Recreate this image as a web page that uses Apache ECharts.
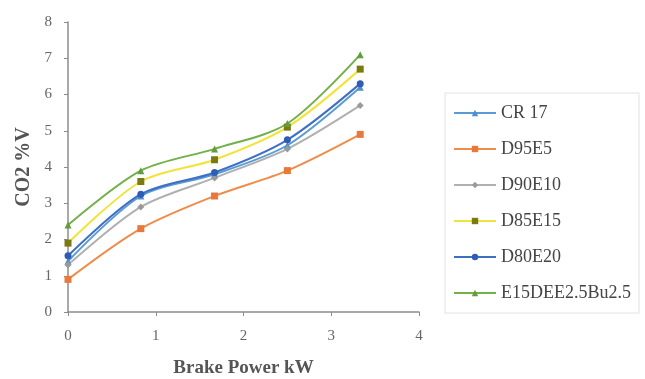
<!DOCTYPE html>
<html>
<head>
<meta charset="utf-8">
<script src="https://cdn.jsdelivr.net/npm/echarts@6/dist/echarts.min.js"></script>
<style>
  html, body {margin: 0; padding: 0; background: #fff;}
  #chart {width: 645px; height: 379px;}
</style>
</head>
<body>
<div id="chart"></div>
<script>
// brake power (kW) at each load step
const power = [0, 0.83, 1.67, 2.5, 3.33];
const seriesNames = ['CR 17', 'D95E5', 'D90E10', 'D85E15', 'D80E20', 'E15DEE2.5Bu2.5'];
const cr17 = [1.4, 3.2, 3.8, 4.6, 6.2];
const d95e5 = [0.9, 2.3, 3.2, 3.9, 4.9];
const d90e10 = [1.3, 2.9, 3.7, 4.5, 5.7];
const d85e15 = [1.9, 3.6, 4.2, 5.1, 6.7];
const d80e20 = [1.55, 3.25, 3.85, 4.75, 6.3];
const e15dee = [2.4, 3.9, 4.5, 5.2, 7.1];
const yTicks = [0, 1, 2, 3, 4, 5, 6, 7, 8];
const xTicks = [0, 1, 2, 3, 4];

const serif = '"Liberation Serif", "DejaVu Serif", serif';
const styles = [
  {line: '#5b9bd5', marker: '#4f8fcc', symbol: 'triangle'},
  {line: '#f08c4a', marker: '#e8793a', symbol: 'rect'},
  {line: '#b0b0b0', marker: '#9a9a9a', symbol: 'diamond'},
  {line: '#f2e33a', marker: '#7a7a10', symbol: 'rect'},
  {line: '#3f6fc4', marker: '#2f5db3', symbol: 'circle'},
  {line: '#72b04a', marker: '#5f9e3a', symbol: 'triangle'},
];
const values = [cr17, d95e5, d90e10, d85e15, d80e20, e15dee];

const chart = echarts.init(document.getElementById('chart'));
chart.setOption({
  animation: false,
  grid: {left: 68, right: 226, top: 22, bottom: 67, outerBoundsMode: 'none', containLabel: false},
  xAxis: {
    type: 'value',
    min: xTicks[0],
    max: xTicks[xTicks.length - 1],
    interval: 1,
    name: 'Brake Power kW',
    nameLocation: 'middle',
    nameGap: 47,
    nameTextStyle: {fontFamily: serif, fontSize: 19, fontWeight: 'bold', color: '#555'},
    axisLine: {lineStyle: {color: '#8c8c8c', width: 1.5}},
    axisTick: {show: true, length: 4, lineStyle: {color: '#8c8c8c'}},
    axisLabel: {fontFamily: serif, fontSize: 15, color: '#666', margin: 17},
    splitLine: {show: false}
  },
  yAxis: {
    type: 'value',
    min: yTicks[0],
    max: yTicks[yTicks.length - 1],
    interval: 1,
    name: 'CO2 %V',
    nameLocation: 'middle',
    nameGap: 24,
    nameRotate: 90,
    nameTextStyle: {fontFamily: serif, fontSize: 20, fontWeight: 'bold', color: '#555'},
    axisLine: {show: true, lineStyle: {color: '#8c8c8c', width: 1.5}},
    axisTick: {show: true, length: 4, lineStyle: {color: '#8c8c8c'}},
    axisLabel: {fontFamily: serif, fontSize: 15, color: '#666', margin: 16},
    splitLine: {show: false}
  },
  legend: {
    orient: 'vertical',
    left: 445,
    top: 93,
    padding: [11, 8, 11, 8],
    itemGap: 18,
    itemWidth: 42,
    itemHeight: 8,
    borderColor: '#e2e2e2',
    borderWidth: 1,
    textStyle: {fontFamily: serif, fontSize: 18, color: '#444'},
    data: seriesNames
  },
  series: seriesNames.map((name, i) => ({
    name: name,
    type: 'line',
    smooth: 0.3,
    data: power.map((p, j) => [p, values[i][j]]),
    symbol: styles[i].symbol,
    symbolSize: 7,
    lineStyle: {color: styles[i].line, width: 2},
    itemStyle: {color: styles[i].marker}
  }))
});
</script>
</body>
</html>
